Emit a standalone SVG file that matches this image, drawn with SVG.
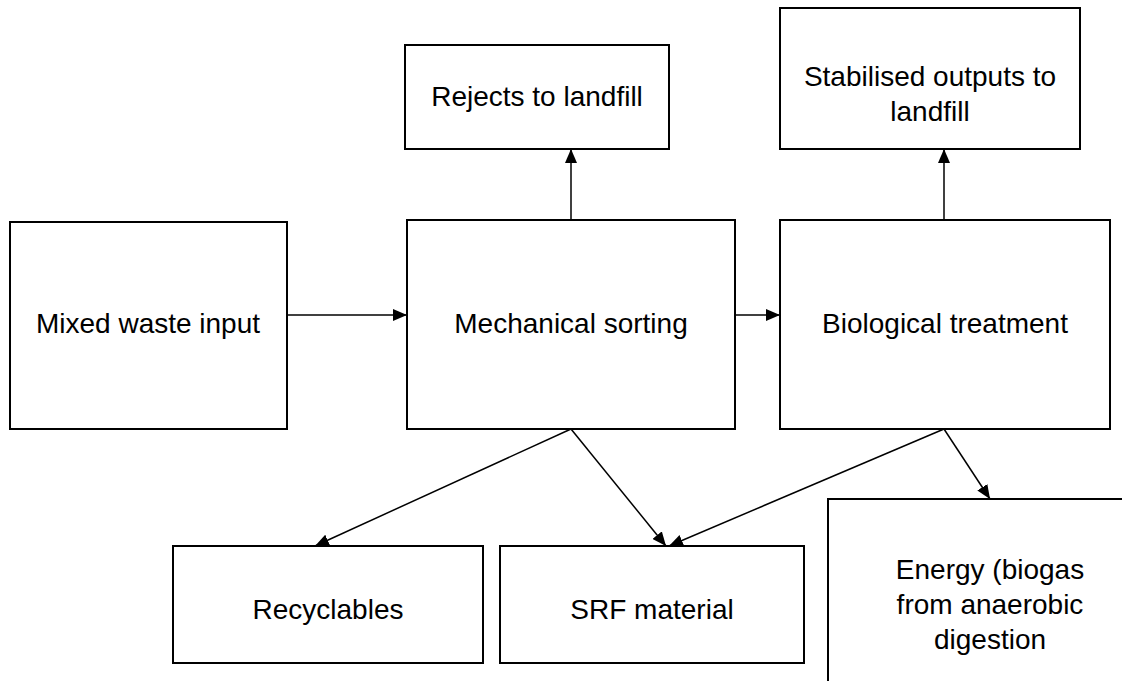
<svg xmlns="http://www.w3.org/2000/svg" width="1122" height="681" viewBox="0 0 1122 681">
<style>
.box{fill:#fff;stroke:#000;stroke-width:2}
.t{font-family:"Liberation Sans",Arial,sans-serif;font-size:28px;fill:#000;text-anchor:middle}
.c{stroke:#000;stroke-width:1.5;fill:none;marker-end:url(#ah)}
</style>
<defs>
<marker id="ah" markerWidth="14" markerHeight="12" refX="14" refY="6" orient="auto" markerUnits="userSpaceOnUse">
<path d="M0,0 L14,6 L0,12 Z" fill="#000"/>
</marker>
</defs>
<rect width="1122" height="681" fill="#fff"/>
<g id="connectors">
<line class="c" x1="287" y1="315" x2="407" y2="315"/>
<line class="c" x1="735" y1="315" x2="780" y2="315"/>
<line class="c" x1="571" y1="220" x2="571" y2="149"/>
<line class="c" x1="944" y1="220" x2="944" y2="149"/>
<line class="c" x1="571" y1="429" x2="315" y2="546"/>
<line class="c" x1="571" y1="429" x2="666" y2="546"/>
<line class="c" x1="944" y1="429" x2="669" y2="546"/>
<line class="c" x1="944" y1="429" x2="990" y2="499"/>
</g>
<g id="mixed"><rect class="box" x="10" y="222" width="277" height="207"/><text class="t" x="148" y="333">Mixed waste input</text></g>
<g id="mech"><rect class="box" x="407" y="220" width="328" height="209"/><text class="t" x="571" y="333">Mechanical sorting</text></g>
<g id="bio"><rect class="box" x="780" y="220" width="330" height="209"/><text class="t" x="945" y="333">Biological treatment</text></g>
<g id="rejects"><rect class="box" x="405" y="45" width="264" height="104"/><text class="t" x="537" y="106">Rejects to landfill</text></g>
<g id="stabilised"><rect class="box" x="780" y="8" width="300" height="141"/><text class="t" x="930" y="86">Stabilised outputs to</text><text class="t" x="930" y="121">landfill</text></g>
<g id="recyclables"><rect class="box" x="173" y="546" width="310" height="117"/><text class="t" x="328" y="619">Recyclables</text></g>
<g id="srf"><rect class="box" x="500" y="546" width="304" height="117"/><text class="t" x="652" y="619">SRF material</text></g>
<g id="energy"><rect class="box" x="828" y="499" width="310" height="200"/><text class="t" x="990" y="579">Energy (biogas</text><text class="t" x="990" y="614">from anaerobic</text><text class="t" x="990" y="649">digestion</text></g>
</svg>
